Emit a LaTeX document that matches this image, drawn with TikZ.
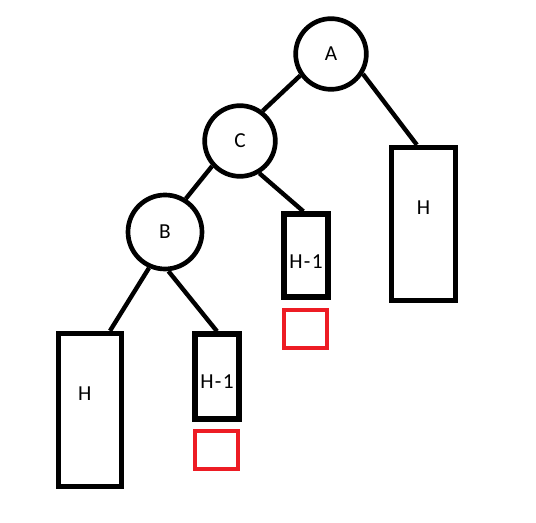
\documentclass[tikz,border=0pt]{standalone}
\usepackage{fontspec}
\setmainfont{Carlito}
\definecolor{paintred}{RGB}{237,28,36}
\begin{document}
\begin{tikzpicture}[x=0.75pt,y=-0.75pt,
  every node/.style={font=\fontsize{16}{18}\selectfont},
  vert/.style={draw,circle,line width=3.5pt,inner sep=0pt,minimum size=53pt},
  blk/.style={draw,rectangle,line width=4pt,inner sep=0pt},
  hole/.style={draw=paintred,rectangle,line width=3pt,inner sep=0pt,minimum width=32.25pt,minimum height=28.5pt},
  edge/.style={line width=3.3pt}]
\useasboundingbox (0,0) rectangle (536,523);
\node[vert] (A) at (331,54) {A};
\node[vert] (C) at (240,141) {C};
\node[vert,minimum size=55.5pt] (B) at (165,232) {B};
\node[blk,minimum width=48pt,minimum height=114.75pt,label={[yshift=12pt]center:H}] (Hr) at (423.5,224) {};
\node[blk,minimum width=33pt,minimum height=62.25pt,label={[yshift=-4.5pt]center:H\kern1pt-\kern1pt1}] (Hc) at (306,255.5) {};
\node[hole] (Rc) at (305.5,329) {};
\node[blk,minimum width=47.25pt,minimum height=114.75pt,label={[xshift=-4pt,yshift=12pt]center:H}] (Hl) at (90,410) {};
\node[blk,minimum width=33pt,minimum height=63.75pt,label={[yshift=-4pt]center:H\kern1pt-\kern1pt1}] (Hb) at (217,376.5) {};
\node[hole] (Rb) at (216.5,450) {};
\draw[edge] (A.215) -- (C.53);
\draw[edge] (A.-32) -- ([xshift=-5pt]Hr.north);
\draw[edge] (C.222) -- (B.58);
\draw[edge] (C.-59) -- ([xshift=-2pt]Hc.north);
\draw[edge] (B.-114) -- ([xshift=15pt]Hl.north);
\draw[edge] (B.-85) -- (Hb.north);
\end{tikzpicture}
\end{document}
